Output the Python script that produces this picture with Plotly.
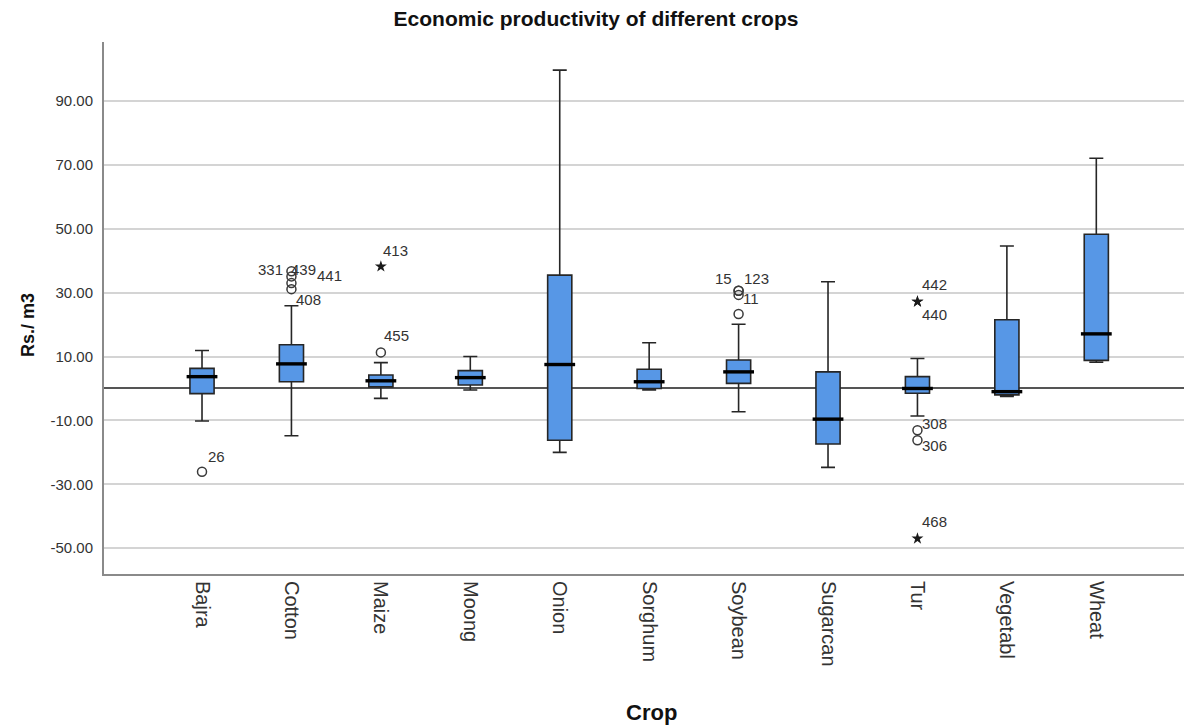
import plotly.graph_objects as go

crops = ["Bajra", "Cotton", "Maize", "Moong", "Onion", "Sorghum", "Soybean",
         "Sugarcan", "Tur", "Vegetabl", "Wheat"]
lower_whisker = [-10.2, -14.8, -3.1, -0.5, -20.0, -0.5, -7.3, -24.7, -8.6, -2.5, 8.2]
q1 = [-1.6, 2.1, 0.5, 1.1, -16.2, 0.0, 1.6, -17.4, -1.5, -2.0, 8.8]
median = [3.7, 7.7, 2.4, 3.4, 7.5, 2.1, 5.2, -9.6, 0.0, -1.0, 17.1]
q3 = [6.3, 13.7, 4.2, 5.6, 35.5, 6.0, 8.9, 5.2, 3.7, 21.5, 48.3]
upper_whisker = [11.9, 25.9, 8.1, 10.0, 99.7, 14.3, 20.1, 33.4, 9.4, 44.6, 72.1]

# outliers (circles) and extremes (stars)
out_crop = ["Bajra", "Cotton", "Cotton", "Cotton", "Cotton", "Maize",
            "Soybean", "Soybean", "Soybean", "Soybean", "Tur", "Tur"]
out_value = [-26.1, 36.7, 35.1, 33.0, 31.1, 11.3, 30.6, 30.6, 29.3, 23.3, -13.1, -16.2]
out_label = ["26", "331", "439", "441", "408", "455", "15", "123", "11", "", "308", "306"]

ext_crop = ["Maize", "Tur", "Tur", "Tur"]
ext_value = [38.2, 27.2, 27.2, -47.0]
ext_label = ["413", "442", "440", "468"]

# label offsets in pixels (xshift, yshift)
out_shift = [(14, 15), (-21, 2), (12, 7), (38, 8), (17, -10), (16, 17),
             (-15, 12), (18, 12), (12, -4), (0, 0), (17, 7), (17, -5)]
ext_shift = [(15, 16), (17, 17), (17, -13), (17, 17)]

y_ticks = [90, 70, 50, 30, 10, -10, -30, -50]

BOX_FILL = "#5797e6"
FONT = "Liberation Sans, Arial, sans-serif"

# the page adds an 8px body margin; figure is sized so it ends at the window edge
OFF = 8
W, H = 1192 - OFF, 726 - OFF
L, R, T, B = 104 - OFF, 0, 42 - OFF, 726 - 574
PW, PH = W - L - R, H - T - B

fig = go.Figure()

fig.add_trace(go.Box(
    x=crops, q1=q1, median=median, q3=q3,
    lowerfence=lower_whisker, upperfence=upper_whisker,
    fillcolor=BOX_FILL,
    line=dict(color="#262626", width=1.6),
    width=0.27, whiskerwidth=0.58,
    boxpoints=False, showlegend=False, hoverinfo="skip",
))

# thick median bars
fig.add_trace(go.Scatter(
    x=crops, y=median, mode="markers",
    marker=dict(symbol="line-ew", size=22, line=dict(color="black", width=3.4)),
    showlegend=False, hoverinfo="skip",
))

fig.add_trace(go.Scatter(
    x=out_crop, y=out_value, mode="markers",
    marker=dict(symbol="circle-open", size=9, color="#3a3a3a", line=dict(width=1.5)),
    showlegend=False, hoverinfo="skip",
))

fig.add_trace(go.Scatter(
    x=ext_crop, y=ext_value, mode="markers",
    marker=dict(symbol="star", size=9, color="#1a1a1a", line=dict(width=0)),
    showlegend=False, hoverinfo="skip",
))

annotations = []
for c, v, t, (dx, dy) in zip(out_crop, out_value, out_label, out_shift):
    if t:
        annotations.append(dict(x=c, y=v, text=t, showarrow=False, xshift=dx, yshift=dy,
                                font=dict(size=15, color="#333333", family=FONT)))
for c, v, t, (dx, dy) in zip(ext_crop, ext_value, ext_label, ext_shift):
    annotations.append(dict(x=c, y=v, text=t, showarrow=False, xshift=dx, yshift=dy,
                            font=dict(size=15, color="#333333", family=FONT)))

# axis titles (positions given in window pixels, converted to paper coords)
annotations.append(dict(text="<b>Rs./ m3</b>", xref="paper", yref="paper",
                        x=(28 - OFF - L) / PW, y=(H - B - (325 - OFF)) / PH, textangle=-90,
                        showarrow=False, xanchor="center", yanchor="middle",
                        font=dict(size=18, color="#111111", family=FONT)))
annotations.append(dict(text="<b>Crop</b>", xref="paper", yref="paper",
                        x=(651 - OFF - L) / PW, y=-((712 - OFF) - (H - B)) / PH,
                        showarrow=False, xanchor="center", yanchor="middle",
                        font=dict(size=22, color="#111111", family=FONT)))

fig.update_layout(
    width=W, height=H,
    margin=dict(l=L, r=R, t=T, b=B),
    paper_bgcolor="white", plot_bgcolor="white",
    font=dict(family=FONT, color="#333333"),
    title=dict(text="<b>Economic productivity of different crops</b>",
               x=(596 - OFF) / W, xanchor="center", y=1 - (19 - OFF) / H, yanchor="middle",
               xref="container", yref="container",
               font=dict(size=21, color="#111111", family=FONT)),
    annotations=annotations,
    xaxis=dict(
        type="category", categoryorder="array", categoryarray=crops,
        range=[-1.096, 11.07], automargin=False,
        showgrid=False, showline=True, linecolor="#8a8a8a", linewidth=2,
        tickangle=90, tickfont=dict(size=20, color="#333333", family=FONT),
        ticks="", ticklabelstandoff=1,
        zeroline=False,
    ),
    yaxis=dict(
        range=[-58.1, 108.5], automargin=False,
        tickvals=y_ticks, ticktext=[f"{v:.2f}" for v in y_ticks],
        showgrid=True, gridcolor="#d4d4d4", gridwidth=1.6,
        showline=True, linecolor="#8a8a8a", linewidth=2,
        zeroline=True, zerolinecolor="#555555", zerolinewidth=1.6,
        ticks="", ticklabelstandoff=6,
        tickfont=dict(size=15, color="#333333", family=FONT),
    ),
)

fig.write_html("out.html")
